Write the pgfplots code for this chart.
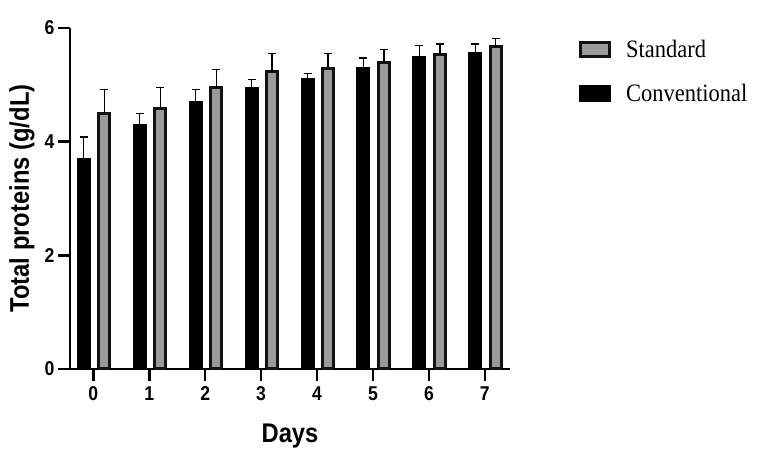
\documentclass[border=0pt]{standalone}
\usepackage{pgfplots}
\usepackage{pgfplotstable}
\pgfplotsset{compat=1.18}
\usepackage{fontspec}
\setmainfont{Liberation Serif}[FakeStretch=0.9]
\newfontfamily\sansb{Liberation Sans}[FakeStretch=0.88]
\definecolor{stdgray}{HTML}{9A9A9A}
\definecolor{edge}{HTML}{111111}

\pgfplotstableread{
day conv convErr std stdErr
0 3.69 0.39 4.49 0.43
1 4.29 0.20 4.58 0.37
2 4.69 0.23 4.95 0.32
3 4.94 0.15 5.24 0.31
4 5.09 0.11 5.29 0.26
5 5.28 0.19 5.40 0.22
6 5.48 0.21 5.54 0.18
7 5.55 0.17 5.67 0.14
}\datatable

\begin{document}
\begin{tikzpicture}
\begin{axis}[
  at={(0,0)}, anchor=south west,
  scale only axis, width=440bp, height=341bp,
  clip=false,
  ybar, bar width=11bp,
  legend image code/.code={\draw[#1, line width=3bp] (0bp,-7bp) rectangle (29bp,7bp);},
  xmin=-0.417, xmax=7.45, ymin=0, ymax=6,
  axis lines=left,
  axis line style={-, line width=2.5bp, black},
  xtick={0,1,...,7}, ytick={0,2,4,6},
  tick align=outside, tickwidth=12bp,
  xtick style={draw=black, line width=2.5bp},
  ytick style={draw=black, line width=2.5bp},
  /pgf/number format/assume math mode=true,
  tick label style={font=\sansb\bfseries\fontsize{20bp}{20bp}\selectfont},
  xticklabel style={yshift=-2bp},
  xlabel={Days}, ylabel={Total proteins (g/dL)},
  label style={font=\sansb\bfseries\fontsize{27bp}{27bp}\selectfont},
  xlabel style={at={(axis description cs:0.5,0)}, anchor=base, yshift=-74bp},
  ylabel style={at={(axis description cs:-0.109,0.5)}, anchor=center},
  legend style={at={(axis description cs:1.15,0.975)}, anchor=north west,
    draw=none, fill=none, font=\fontsize{25bp}{30bp}\selectfont,
    row sep=24bp, column sep=14bp, nodes={inner sep=1bp}},
  legend cell align=left,
]
\addplot[bar shift=11bp, fill=stdgray, draw=edge, line width=3bp,
  error bars/.cd, y dir=plus, y explicit,
  error bar style={line width=1.3bp, black},
  error mark options={rotate=90, line width=1.3bp, mark size=4bp, black}]
  table[x=day, y=std, y error=stdErr] {\datatable};
\addlegendentry{Standard}
\addplot[bar shift=-9.5bp, fill=black, draw=black, line width=3bp,
  error bars/.cd, y dir=plus, y explicit,
  error bar style={line width=1.3bp, black},
  error mark options={rotate=90, line width=1.3bp, mark size=4bp, black}]
  table[x=day, y=conv, y error=convErr] {\datatable};
\addlegendentry{Conventional}
\pgfplotsinvokeforeach{0,1,2,3,4,5,6,7}{\draw[line width=2.5bp, black] (axis cs:#1,0) -- ([yshift=-12bp]axis cs:#1,0);}
\pgfplotsinvokeforeach{0,2,4,6}{\draw[line width=2.5bp, black] (axis cs:-0.417,#1) -- ([xshift=-12bp]axis cs:-0.417,#1);}
\end{axis}
\path (-70bp,-81bp) rectangle (687bp,369bp);
\end{tikzpicture}
\end{document}
